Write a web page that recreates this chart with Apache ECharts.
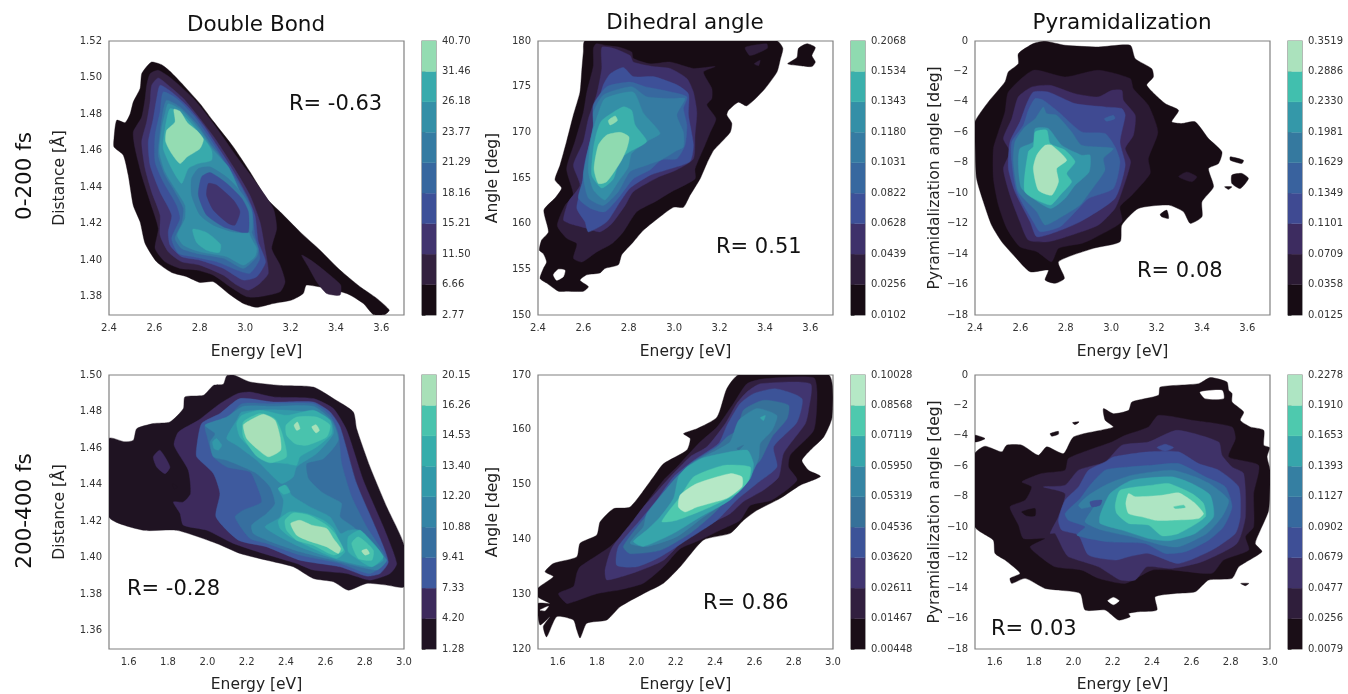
<!DOCTYPE html>
<html><head><meta charset="utf-8">
<style>html,body{margin:0;padding:0;background:#fff}#c{width:1348px;height:694px}</style>
<script src="https://cdn.jsdelivr.net/npm/echarts@6/dist/echarts.min.js"></script>
</head><body><div id="c"></div>
<script>
const columnTitles = ['Double Bond','Dihedral angle','Pyramidalization'];
const rowTitles = ['0-200 fs','200-400 fs'];
const rLabels = ['R= -0.63','R= 0.51','R= 0.08','R= -0.28','R= 0.86','R= 0.03'];
const xName = 'Energy [eV]';
const yNames = ['Distance [Å]','Angle [deg]','Pyramidalization angle [deg]'];
const xTicksEarly = [2.4,2.6,2.8,3.0,3.2,3.4,3.6];
const xTicksLate = [1.6,1.8,2.0,2.2,2.4,2.6,2.8,3.0];
const yTicksBondEarly = [1.38,1.40,1.42,1.44,1.46,1.48,1.50,1.52];
const yTicksBondLate = [1.36,1.38,1.40,1.42,1.44,1.46,1.48,1.50];
const yTicksAngleEarly = [150,155,160,165,170,175,180];
const yTicksAngleLate = [120,130,140,150,160,170];
const yTicksPyr = [-18,-16,-14,-12,-10,-8,-6,-4,-2,0];
const levelsBondEarly = ['2.77','6.66','11.50','15.21','18.16','21.29','23.77','26.18','31.46','40.70'];
const levelsAngleEarly = ['0.0102','0.0256','0.0439','0.0628','0.0822','0.1031','0.1180','0.1343','0.1534','0.2068'];
const levelsPyrEarly = ['0.0125','0.0358','0.0709','0.1101','0.1349','0.1629','0.1981','0.2330','0.2886','0.3519'];
const levelsBondLate = ['1.28','4.20','7.33','9.41','10.88','12.20','13.40','14.53','16.26','20.15'];
const levelsAngleLate = ['0.00448','0.01467','0.02611','0.03620','0.04536','0.05319','0.05950','0.07119','0.08568','0.10028'];
const levelsPyrLate = ['0.0079','0.0256','0.0477','0.0679','0.0902','0.1127','0.1393','0.1653','0.1910','0.2278'];
const paletteBondEarly = ['#170c14','#33213f','#41346e','#3d5098','#37679f','#357ba2','#348fa7','#38aaac','#94dcb2'];
const paletteAngleEarly = ['#170c14','#2f1e3b','#3e316a','#3d5098','#37689f','#357ba2','#348fa7','#3bb0ac','#8fdab0'];
const palettePyrEarly = ['#170c14','#2b1a33','#3d2c60','#3f4a92','#39629e','#35799f','#3498a9','#41bfae','#abe2bd'];
const paletteBondLate = ['#1f1322','#3d2a5c','#3e5a9e','#366f9f','#3484a5','#3299a9','#36adab','#49c3ad','#a8e0b8'];
const paletteAngleLate = ['#1a0e17','#311f3f','#413570','#3c5398','#367199','#3585a3','#36a5ab','#4ec9ae','#b5e8c6'];
const palettePyrLate = ['#1a0e17','#2f1e3b','#3f3268','#3e4f96','#36699e','#357fa2','#36a5ab','#4ec9ae','#aee5c3'];

// contour outlines: [level, [energy, value, energy, value, ...]]; level -1 = empty
const contoursBondEarly = [
[0,[2.588,1.5085,2.632,1.507,2.669,1.5034,2.728,1.4958,2.801,1.4857,2.86,1.476,2.948,1.462,3.021,1.4484,3.095,1.4338,3.154,1.4265,3.242,1.4155,3.33,1.4055,3.418,1.3946,3.506,1.3855,3.58,1.3791,3.635,1.3727,3.616,1.3703,3.565,1.3703,3.521,1.3763,3.447,1.3818,3.271,1.3864,3.256,1.3818,3.205,1.3782,3.124,1.3763,3.051,1.3742,2.992,1.3763,2.926,1.3818,2.86,1.3882,2.801,1.3878,2.742,1.391,2.676,1.3933,2.61,1.3991,2.559,1.4092,2.537,1.421,2.507,1.43,2.485,1.4465,2.463,1.4575,2.422,1.462,2.422,1.4666,2.434,1.4766,2.471,1.4753,2.493,1.48,2.507,1.4866,2.537,1.494,2.544,1.502,2.566,1.506]],
[1,[2.617,1.504,2.676,1.4994,2.772,1.4885,2.86,1.4748,2.963,1.4566,3.051,1.442,3.124,1.4283,3.139,1.4174,3.117,1.4064,3.154,1.3973,3.176,1.3882,3.154,1.3827,3.065,1.38,3.007,1.38,2.933,1.3855,2.86,1.3918,2.786,1.3946,2.713,1.3955,2.647,1.3991,2.603,1.4064,2.617,1.4174,2.581,1.432,2.544,1.4465,2.515,1.4611,2.507,1.4702,2.544,1.4784,2.559,1.4885,2.566,1.4958,2.581,1.5021]],
[1,[3.249,1.4028,3.3,1.3991,3.374,1.3918,3.421,1.3864,3.418,1.3809,3.359,1.3818,3.315,1.3882,3.278,1.3964]],
[2,[2.617,1.4998,2.661,1.4958,2.728,1.4885,2.801,1.4775,2.867,1.4666,2.948,1.4511,3.021,1.4356,3.065,1.421,3.087,1.4064,3.102,1.3928,3.065,1.3873,3.014,1.3836,2.963,1.3864,2.904,1.3918,2.801,1.3973,2.72,1.3991,2.661,1.4046,2.625,1.4137,2.625,1.4247,2.588,1.4374,2.559,1.4502,2.544,1.4648,2.566,1.4757,2.581,1.4866,2.588,1.4958]],
[3,[2.625,1.4958,2.676,1.4921,2.742,1.4848,2.816,1.4739,2.875,1.4629,2.941,1.4502,3.007,1.4356,3.043,1.4247,3.058,1.4101,3.09,1.3991,3.051,1.3909,2.992,1.3891,2.904,1.3955,2.801,1.4,2.72,1.4019,2.669,1.4082,2.661,1.4155,2.676,1.4247,2.625,1.4374,2.581,1.452,2.573,1.4648,2.595,1.4775,2.61,1.4885]],
[4,[2.639,1.4921,2.698,1.4885,2.772,1.4793,2.845,1.4666,2.911,1.4538,2.977,1.4411,3.029,1.4283,3.043,1.4137,3.065,1.401,3.021,1.3928,2.963,1.3946,2.875,1.3991,2.772,1.4019,2.706,1.4037,2.676,1.4119,2.713,1.4228,2.698,1.4301,2.639,1.4429,2.603,1.4538,2.603,1.4684,2.625,1.4812]],
[5,[2.654,1.4876,2.713,1.4839,2.786,1.4748,2.852,1.4629,2.897,1.4556,2.926,1.4465,2.977,1.4374,3.029,1.4265,3.029,1.4155,3.058,1.4064,3.051,1.4019,2.992,1.3955,2.904,1.401,2.786,1.4037,2.72,1.4064,2.691,1.4119,2.72,1.4201,2.728,1.4283,2.691,1.4374,2.647,1.4465,2.617,1.4575,2.625,1.4702,2.639,1.4821]],
[6,[2.661,1.4857,2.72,1.4821,2.801,1.4711,2.86,1.4602,2.926,1.4511,2.977,1.4374,3.014,1.4265,3.021,1.4137,3.051,1.4064,3.043,1.4019,2.992,1.3973,2.919,1.4019,2.801,1.4046,2.728,1.4082,2.701,1.4137,2.735,1.4228,2.735,1.4301,2.691,1.4392,2.647,1.4484,2.622,1.4593,2.632,1.4721,2.647,1.4803]],
[7,[2.669,1.483,2.72,1.4803,2.801,1.4693,2.852,1.4602,2.852,1.4547,2.794,1.4529,2.75,1.4502,2.72,1.442,2.676,1.4502,2.639,1.4611,2.647,1.4721]],
[8,[2.686,1.4826,2.713,1.4815,2.745,1.4753,2.786,1.4711,2.816,1.4662,2.801,1.4611,2.745,1.4566,2.713,1.4529,2.676,1.4584,2.65,1.4648,2.654,1.4711,2.691,1.4757]],
[5,[2.794,1.4502,2.845,1.4511,2.926,1.4447,2.992,1.4356,3.029,1.4265,3.029,1.4155,2.948,1.4155,2.86,1.4192,2.801,1.4247,2.764,1.4356,2.764,1.4447]],
[3,[2.808,1.4456,2.845,1.448,2.919,1.442,2.985,1.4338,3.014,1.4265,3.014,1.4155,2.977,1.4155,2.904,1.4183,2.83,1.4247,2.794,1.4356]],
[2,[2.838,1.442,2.874,1.4411,2.948,1.4329,2.977,1.4265,2.955,1.4192,2.926,1.4201,2.86,1.4274,2.83,1.4356]],
[7,[2.769,1.417,2.83,1.4152,2.892,1.4086,2.886,1.4042,2.83,1.4055,2.786,1.4097]]
];
const contoursAngleEarly = [
[0,[2.607,180,3.453,180,3.479,179.2,3.467,177.9,3.453,176.6,3.394,174.6,3.32,172.9,3.283,173.3,3.239,172.4,3.232,171.9,3.254,171,3.247,170,3.203,168.8,3.173,168,3.144,166.6,3.114,164.9,3.07,163.1,3.041,161.8,2.997,161.8,2.945,160.9,2.865,159.3,2.82,158,2.769,156.6,2.754,155.5,2.695,155.1,2.673,154.6,2.615,154.4,2.585,153.8,2.622,153.1,2.6,152.6,2.526,152.6,2.49,152.6,2.438,153.5,2.409,154,2.424,155.1,2.438,155.8,2.424,156.7,2.406,157.1,2.416,158.2,2.446,159.1,2.426,161.5,2.475,162.8,2.504,163.9,2.475,164.8,2.497,166.4,2.526,169,2.556,171.9,2.585,174.4,2.593,176.8,2.6,178.8]],
[0,[3.548,179.2,3.585,179.7,3.622,179.3,3.607,178.4,3.622,177.7,3.607,177.2,3.555,177.3,3.5,177.5,3.541,178.2]],
[-1,[2.468,154.4,2.49,155,2.519,154.9,2.512,154.2,2.482,153.8]],
[1,[2.656,179.7,2.703,179.5,2.762,179.3,2.813,178.8,2.82,178.1,2.894,177.5,2.982,177.7,3.085,177,3.181,177.2,3.129,176.6,3.166,174.8,3.166,173.7,3.144,173,3.184,171.5,3.159,170,3.136,168.6,3.092,166,3.092,164.9,2.989,163.5,2.916,162.4,2.835,161.3,2.776,159.1,2.725,157.8,2.659,156.9,2.593,155.8,2.556,156.2,2.571,157.8,2.526,158.4,2.485,159.8,2.519,162,2.556,163.1,2.526,166,2.563,169,2.6,172.2,2.615,174.4,2.644,177.3,2.644,179.2]],
[1,[3.313,179.3,3.408,179.7,3.411,179.2,3.335,178.4]],
[1,[3.353,177.5,3.379,177.9,3.372,177.3]],
[2,[2.681,179.3,2.732,179.2,2.806,178.4,2.82,177.7,2.909,177.2,2.982,177,3.056,175.9,3.085,174.4,3.1,172.2,3.092,169.7,3.085,167.1,3.012,165.9,2.931,165.1,2.82,163.5,2.784,162,2.725,160,2.673,159.1,2.615,159.5,2.541,160,2.512,160.4,2.534,162.4,2.585,164.2,2.556,166.4,2.6,169,2.622,171.5,2.659,174.2,2.681,177]],
[3,[2.718,176.4,2.776,177.1,2.82,176.1,2.909,176.1,3.012,175.2,3.063,174.2,3.063,171.9,3.085,168.6,3.07,166.8,2.982,166,2.894,165.3,2.806,163.9,2.762,162.4,2.703,160.2,2.622,159.1,2.607,160.2,2.571,161.7,2.593,164.2,2.607,166.8,2.637,169.7,2.659,172.6,2.688,175.2]],
[4,[2.644,173,2.703,175,2.806,175.5,2.872,175,2.953,174.6,3.056,173.9,3.041,172.6,3.056,170.8,3.048,168.6,3.012,167.1,2.945,167,2.894,165.9,2.82,164.9,2.754,162.8,2.695,161.3,2.629,161.7,2.578,162.8,2.6,164.9,2.615,167.5,2.644,170.4]],
[5,[2.644,172.2,2.688,174.1,2.813,175,2.879,173.9,2.989,173.7,3.048,173.7,3.012,171.9,3.041,170,3.041,168.4,3.012,168,2.945,167,2.879,166.4,2.806,165.7,2.754,163.5,2.688,162,2.622,162.8,2.6,165.3,2.622,168.2,2.644,170.8]],
[6,[2.666,172.1,2.695,173.7,2.82,174.4,2.865,172.1,2.938,169.9,2.887,169.1,2.813,167.7,2.798,166.2,2.754,164.6,2.695,162.6,2.644,163.7,2.622,165.7,2.629,168.6,2.644,170.4]],
[7,[2.681,171.3,2.776,172.8,2.813,172.4,2.828,170.8,2.879,169,2.806,167.9,2.762,167.1,2.732,164.9,2.681,163.9,2.637,165.3,2.644,168.2,2.659,170]],
[8,[2.666,168.6,2.703,169.7,2.762,170,2.801,169.5,2.791,168.2,2.765,166.8,2.703,164.6,2.666,164.4,2.647,166]],
[8,[2.71,171.3,2.74,171.8,2.75,171.3,2.718,170.8]]
];
const contoursPyrEarly = [
[0,[2.657,-0.17,2.709,-0.02,2.797,-0.28,2.944,-0.39,3.084,-0.28,3.106,-1.16,3.179,-1.82,3.186,-2.36,3.157,-2.91,3.238,-4.11,3.297,-4.55,3.267,-5.31,3.311,-5.42,3.37,-5.31,3.429,-6.41,3.488,-7.28,3.473,-8.05,3.429,-8.38,3.451,-9.58,3.4,-10.56,3.4,-11.55,3.348,-11.98,3.319,-11.22,3.253,-10.78,3.12,-11,3.047,-12.09,3.039,-13.19,2.922,-13.62,2.768,-14.5,2.794,-15.59,2.753,-15.92,2.709,-15.7,2.723,-15.05,2.643,-15.16,2.576,-14.17,2.518,-13.19,2.473,-12.09,2.437,-10.56,2.407,-9.03,2.4,-6.63,2.4,-5.31,2.459,-4,2.532,-2.69,2.547,-2.03,2.591,-1.49,2.591,-0.83]],
[0,[3.525,-7.61,3.583,-7.83,3.576,-8.05,3.525,-7.83]],
[0,[3.532,-8.81,3.576,-8.7,3.605,-9.03,3.569,-9.69,3.532,-9.36]],
[0,[3.5,-9.58,3.532,-9.58,3.517,-9.75]],
[0,[3.216,-11.39,3.245,-11.11,3.253,-11.66,3.223,-11.55]],
[1,[2.657,-1.92,2.797,-2.36,2.944,-1.92,3.084,-2.47,3.098,-3.13,3.164,-4.22,3.206,-5.97,3.164,-7.72,3.172,-8.7,3.091,-10.13,3.039,-10.89,3.047,-11.88,2.922,-12.97,2.87,-13.3,2.768,-13.62,2.738,-14.5,2.672,-13.84,2.598,-13.52,2.54,-12.31,2.503,-10.78,2.481,-9.03,2.481,-7.06,2.503,-5.97,2.532,-4.66,2.547,-3.35]],
[1,[3.297,-8.92,3.333,-8.6,3.378,-8.92,3.356,-9.25]],
[2,[2.591,-3.67,2.65,-3.02,2.731,-2.91,2.841,-3.46,2.944,-3.67,3.003,-3.24,3.047,-3.24,3.054,-3.89,3.106,-4.88,3.098,-6.19,3.062,-7.06,3.086,-7.94,3.047,-9.91,3.017,-11,2.944,-12.09,2.826,-12.75,2.723,-13.19,2.635,-13.08,2.598,-11.88,2.554,-10.13,2.525,-8.38,2.554,-7.28,2.525,-6.41,2.562,-5.1]],
[3,[2.628,-4.11,2.657,-3.35,2.723,-3.35,2.841,-4.11,2.973,-4.33,3.047,-4.44,3.062,-4.88,3.039,-6.63,3.062,-8.16,3.017,-10.34,2.863,-11.88,2.76,-12.53,2.672,-12.86,2.643,-11.88,2.576,-9.91,2.547,-8.38,2.554,-6.63,2.598,-5.31]],
[4,[2.97,-5.1,3.01,-4.88,3.017,-5.1,2.98,-5.27]],
[4,[2.635,-4.55,2.665,-3.78,2.701,-3.89,2.768,-4.66,2.87,-5.97,2.973,-6.08,3.017,-6.95,3.039,-7.94,3.01,-9.69,2.9,-10.34,2.856,-11,2.775,-12.2,2.687,-12.53,2.657,-11.88,2.584,-9.91,2.562,-7.94,2.562,-6.63,2.613,-5.53]],
[5,[2.701,-4.33,2.716,-4.77,2.76,-4.88,2.826,-5.97,2.87,-6.85,3.01,-7.06,2.966,-7.72,2.973,-8.49,2.907,-9.91,2.863,-10.78,2.782,-11.55,2.709,-12.09,2.672,-11.22,2.591,-9.91,2.569,-7.94,2.576,-6.63,2.62,-5.64,2.665,-5.1]],
[6,[2.665,-5.75,2.723,-5.75,2.782,-6.85,2.87,-7.5,2.907,-7.5,2.903,-8.6,2.841,-9.47,2.797,-10.34,2.731,-11,2.606,-9.69,2.591,-8.16,2.598,-7.06,2.657,-6.63]],
[7,[2.665,-5.97,2.716,-5.86,2.731,-6.74,2.797,-7.17,2.841,-7.94,2.804,-8.7,2.826,-9.25,2.775,-10.13,2.731,-10.78,2.62,-9.91,2.635,-7.28,2.657,-6.95]],
[8,[2.709,-6.85,2.738,-6.85,2.804,-7.83,2.76,-8.38,2.768,-9.25,2.738,-10.13,2.679,-9.8,2.657,-8.38,2.672,-7.5]]
];
const contoursBondLate = [
[0,[2.098,1.4995,2.132,1.5,2.217,1.4962,2.37,1.4943,2.539,1.4934,2.641,1.4871,2.742,1.4798,2.759,1.4706,2.827,1.4497,2.912,1.4278,3,1.4068,3,1.3841,2.912,1.385,2.81,1.3859,2.717,1.3822,2.641,1.3868,2.539,1.3886,2.437,1.395,2.302,1.3986,2.166,1.4023,2.047,1.4078,1.844,1.415,1.675,1.415,1.5,1.4223,1.5,1.4652,1.581,1.4634,1.624,1.4643,1.641,1.4706,1.725,1.4734,1.81,1.4743,1.878,1.4816,1.886,1.488,1.98,1.4889,2.031,1.4943,2.081,1.4949]],
[1,[2.153,1.4898,2.217,1.4907,2.336,1.488,2.539,1.4871,2.641,1.4816,2.709,1.4697,2.793,1.4424,2.895,1.4169,2.963,1.3968,2.929,1.3913,2.827,1.3877,2.709,1.3913,2.539,1.3932,2.454,1.3968,2.285,1.4023,2.132,1.4078,1.997,1.415,1.878,1.4178,1.861,1.4242,1.827,1.4305,1.878,1.4305,1.915,1.4351,1.903,1.4479,1.831,1.4615,1.853,1.4688,1.954,1.4752,2.064,1.4843]],
[1,[1.725,1.4552,1.759,1.4588,1.81,1.4497,1.785,1.446,1.742,1.4497]],
[0,[1.822,1.4406,1.847,1.4387,1.831,1.4375]],
[2,[2.166,1.4871,2.336,1.4852,2.539,1.4852,2.624,1.4798,2.675,1.4716,2.759,1.4406,2.861,1.415,2.92,1.3977,2.878,1.3913,2.81,1.3899,2.675,1.395,2.471,1.3986,2.302,1.4059,2.158,1.4096,2.044,1.4223,2.064,1.4351,2.031,1.446,1.946,1.4552,1.946,1.4606,1.971,1.4734,2.064,1.4789]],
[3,[2.175,1.4843,2.319,1.4843,2.539,1.4843,2.624,1.4779,2.666,1.4679,2.683,1.4515,2.734,1.4333,2.81,1.4169,2.912,1.3986,2.827,1.3913,2.675,1.3968,2.471,1.4014,2.302,1.4078,2.217,1.4105,2.141,1.4223,2.183,1.426,2.276,1.4305,2.251,1.4397,2.217,1.4469,2.098,1.4497,2.031,1.4552,1.997,1.467,1.988,1.4725,2.047,1.4743,2.098,1.4761]],
[4,[2.183,1.4829,2.336,1.4829,2.539,1.4829,2.632,1.4752,2.666,1.4643,2.59,1.4542,2.505,1.4515,2.514,1.4433,2.581,1.436,2.641,1.4324,2.683,1.4296,2.675,1.4223,2.742,1.4169,2.861,1.4041,2.912,1.3986,2.861,1.3932,2.675,1.3977,2.471,1.4032,2.302,1.4096,2.234,1.4132,2.225,1.4178,2.302,1.4242,2.344,1.4296,2.319,1.4387,2.251,1.446,2.2,1.4488,2.098,1.4533,2.031,1.4552,2.014,1.4634,2.039,1.4679,1.988,1.4725,2.098,1.477]],
[5,[2.175,1.4798,2.319,1.481,2.505,1.4798,2.624,1.4752,2.641,1.4679,2.556,1.457,2.454,1.4497,2.437,1.4442,2.378,1.4406,2.319,1.446,2.251,1.4533,2.149,1.4615,2.098,1.4652,2.149,1.4752]],
[5,[2.361,1.4378,2.403,1.4397,2.429,1.4342,2.522,1.4278,2.624,1.4223,2.678,1.4132,2.717,1.415,2.776,1.415,2.861,1.4059,2.895,1.3986,2.827,1.395,2.641,1.3996,2.471,1.4059,2.353,1.4123,2.293,1.4169,2.37,1.4223,2.387,1.4315]],
[5,[2.027,1.4634,2.047,1.4652,2.073,1.4615,2.056,1.4588,2.034,1.4597]],
[6,[2.175,1.4779,2.268,1.4807,2.403,1.4779,2.539,1.4807,2.624,1.4752,2.632,1.4679,2.556,1.4606,2.471,1.4552,2.454,1.4506,2.403,1.4515,2.319,1.4524,2.251,1.457,2.166,1.4661,2.149,1.4734]],
[6,[2.361,1.4378,2.395,1.4397,2.42,1.436,2.386,1.4347]],
[6,[2.361,1.4205,2.42,1.4251,2.505,1.4242,2.59,1.4205,2.641,1.416,2.675,1.4078,2.7,1.4032,2.658,1.3996,2.539,1.405,2.42,1.4114,2.37,1.416]],
[6,[2.717,1.4114,2.776,1.415,2.827,1.4096,2.895,1.4005,2.836,1.395,2.759,1.3996,2.717,1.4032]],
[7,[2.183,1.4743,2.268,1.4789,2.344,1.4761,2.378,1.4688,2.403,1.4552,2.319,1.4519,2.251,1.4555,2.183,1.4661]],
[7,[2.4,1.4725,2.454,1.477,2.556,1.477,2.624,1.4725,2.607,1.4661,2.505,1.4615,2.446,1.4624,2.403,1.467]],
[8,[2.183,1.4725,2.217,1.4752,2.285,1.4785,2.344,1.4752,2.37,1.4661,2.373,1.4588,2.31,1.4552,2.251,1.4597,2.2,1.4652]],
[8,[2.441,1.4725,2.458,1.4743,2.471,1.4706,2.454,1.4697]],
[8,[2.531,1.4716,2.553,1.4728,2.57,1.4697,2.553,1.4683]],
[7,[2.395,1.4205,2.437,1.4245,2.514,1.4233,2.607,1.4178,2.649,1.4132,2.692,1.4041,2.641,1.4014,2.539,1.4068,2.454,1.4096,2.403,1.415]],
[8,[2.424,1.4187,2.471,1.4205,2.531,1.4178,2.607,1.416,2.641,1.4105,2.678,1.405,2.666,1.4023,2.607,1.4059,2.505,1.4096,2.454,1.4123]],
[7,[2.734,1.4078,2.768,1.4114,2.844,1.4041,2.836,1.3986,2.768,1.3996]],
[8,[2.785,1.4037,2.81,1.4047,2.824,1.4023,2.802,1.4014]]
];
const contoursAngleLate = [
[0,[2.52,170,2.978,170,2.995,162.3,2.953,158.7,2.885,156.3,2.842,154.4,2.876,152.6,2.936,151.5,2.834,149.9,2.732,147.5,2.613,145.3,2.545,143.5,2.477,141.1,2.342,139.9,2.223,135,2.138,132,2.036,130.1,1.917,127.7,1.85,125.3,1.748,124.7,1.714,122,1.697,123.5,1.68,125.3,1.595,125.9,1.544,122.2,1.527,124.1,1.561,125.9,1.51,124.4,1.5,128.3,1.561,128.3,1.5,129.5,1.5,131.1,1.578,133.2,1.536,134.1,1.578,135.6,1.697,136.8,1.714,139.3,1.799,140.8,1.816,143.2,1.884,145.6,1.968,145.9,2.087,151.4,2.138,153.8,2.257,156.3,2.274,158.4,2.24,159.3,2.308,160.2,2.41,162.3,2.46,167.5]],
[-1,[1.51,127.1,1.553,127.8,1.536,127]],
[1,[2.562,168.4,2.647,169.3,2.902,169.5,2.919,166.6,2.902,159.9,2.783,155.4,2.774,153.2,2.817,150.8,2.69,147.2,2.579,146.2,2.528,143.5,2.427,141.7,2.325,139.9,2.223,138.3,2.138,135,2.036,132,1.917,130.8,1.799,130.1,1.68,128.6,1.646,128.3,1.604,130.1,1.68,131.4,1.697,133.8,1.714,135,1.867,138.7,1.968,142.3,2.036,145.9,2.138,150.8,2.206,153.2,2.325,157.8,2.41,160.5,2.494,164.8]],
[2,[2.562,166.9,2.63,168.4,2.885,168.4,2.876,163.6,2.859,161.1,2.749,155.7,2.724,151.4,2.647,149,2.545,146.9,2.477,144.7,2.308,141.7,2.24,139.9,2.138,136.2,2.002,134.1,1.85,132.6,1.841,134.4,1.875,138.4,1.985,143.5,2.036,145.9,2.172,151.4,2.274,155.1,2.359,156.9,2.452,161.1,2.511,164.8]],
[3,[2.528,164.8,2.596,166.6,2.707,167.5,2.842,165.7,2.817,161.4,2.698,156.9,2.715,153.2,2.613,150.2,2.511,147.2,2.41,143.5,2.257,139.9,2.121,136.8,2.002,135,1.9,135.3,1.909,138.7,2.019,143.5,2.104,147.2,2.189,151.4,2.291,154.4,2.418,157.5,2.461,160.8]],
[4,[2.545,163.6,2.647,165.4,2.774,164.5,2.766,162,2.69,158.7,2.63,154.4,2.579,152.6,2.41,145.3,2.274,141.1,2.121,138,1.968,137.4,1.934,138.7,2.045,144.1,2.189,150.8,2.274,153.8,2.41,156.9,2.461,158.7,2.511,159.9]],
[5,[2.52,161.7,2.613,163.9,2.715,162.6,2.69,159.9,2.63,157.5,2.622,154.8,2.579,151.4,2.494,147.8,2.342,144.1,2.206,140.5,2.053,138.7,1.968,139.3,2.036,142.3,2.053,144.7,2.206,151.4,2.291,154.1,2.41,156.3,2.477,157.8]],
[6,[2.63,162.2,2.656,162.6,2.647,161.7]],
[4,[2.511,156.6,2.545,157.2,2.52,156.3]],
[6,[2.257,153.2,2.342,154.9,2.562,156.3,2.596,153.8,2.579,151.1,2.477,147.2,2.325,144.1,2.189,141.1,2.036,138.7,1.985,139.6,2.053,141.7,2.121,144.1,2.189,147.5,2.214,151.4]],
[7,[2.291,151.4,2.444,153.5,2.579,153.2,2.571,150.8,2.511,148.4,2.376,145.9,2.206,143.5,2.13,143.2,2.155,144.7,2.223,147.8]],
[8,[2.223,148.1,2.308,150.2,2.477,152,2.537,151.4,2.537,149.6,2.46,147.5,2.308,145.9,2.248,145,2.214,145.9]]
];
const contoursPyrLate = [
[0,[1.5,-5.16,1.551,-4.68,1.636,-5.05,1.661,-4.61,1.738,-4.61,1.822,-5.27,1.865,-4.72,1.95,-5.16,2.001,-4.07,2.153,-3.59,2.204,-3.41,2.162,-2.97,2.153,-2.21,2.204,-2.54,2.281,-2.32,2.298,-1.77,2.433,-1.33,2.442,-0.79,2.637,-0.57,2.696,-0.17,2.781,-0.46,2.79,-1.01,2.807,-1.22,2.807,-1.77,2.866,-2.43,2.849,-2.97,2.9,-3.41,2.968,-3.63,2.968,-4.61,2.997,-4.77,2.985,-5.38,3,-6.25,2.993,-8.88,2.951,-10.19,2.925,-11.07,2.959,-11.61,2.841,-12.6,2.807,-13.36,2.688,-13.47,2.62,-14.24,2.518,-14.35,2.416,-14.57,2.425,-15.44,2.332,-15.55,2.281,-15.66,2.289,-15.88,2.23,-16.1,2.162,-15.44,2.06,-15.44,2.035,-14.35,1.924,-14.13,1.856,-14.02,1.755,-13.36,1.687,-13.69,1.678,-13.36,1.729,-13.03,1.653,-12.16,1.602,-11.72,1.593,-10.85,1.5,-9.97]],
[0,[1.5,-3.96,1.551,-4.18,1.5,-4.4]],
[0,[1.882,-3.85,1.924,-3.7,1.924,-3.89,1.89,-4.02]],
[0,[1.996,-3.13,2.029,-3.08,2.009,-3.26]],
[0,[2.851,-13.69,2.892,-13.69,2.875,-13.84]],
[-1,[2.645,-1.12,2.756,-1.01,2.764,-1.55,2.671,-1.55]],
[-1,[2.175,-14.83,2.204,-14.61,2.233,-14.83,2.204,-15.09]],
[1,[1.738,-7.02,1.839,-6.47,1.958,-6.25,1.975,-5.49,2.077,-4.94,2.196,-4.4,2.264,-3.96,2.382,-3.41,2.433,-2.65,2.603,-2.97,2.807,-3.41,2.824,-4.18,2.79,-5.38,2.942,-5.93,2.917,-7.79,2.917,-9.97,2.875,-10.63,2.892,-11.5,2.764,-12.16,2.705,-13.03,2.51,-12.82,2.399,-12.82,2.264,-13.69,2.128,-13.36,2.043,-12.82,1.907,-12.6,1.831,-11.94,1.78,-11.29,1.856,-10.74,1.746,-10.74,1.721,-9.86,1.678,-8.66,1.755,-8.22,1.788,-7.35]],
[0,[1.738,-8.99,1.805,-8.77,1.805,-9.25,1.763,-9.25]],
[2,[1.848,-7.35,1.958,-7.24,2.026,-6.25,2.162,-5.71,2.247,-4.61,2.382,-4.4,2.527,-3.63,2.739,-4.4,2.756,-5.27,2.807,-6.04,2.866,-6.47,2.875,-9.32,2.832,-11.07,2.654,-12.27,2.501,-12.71,2.374,-12.6,2.315,-13.47,2.238,-13.47,2.128,-12.6,1.975,-11.94,1.95,-11.5,1.907,-10.41,1.882,-10.41,1.924,-9.32,1.958,-7.79]],
[3,[2.425,-4.77,2.467,-4.55,2.51,-4.77,2.467,-5.01]],
[3,[2.026,-7.35,2.077,-6.25,2.162,-5.71,2.204,-5.38,2.382,-5.05,2.535,-5.05,2.637,-5.82,2.739,-6.25,2.841,-7.35,2.849,-9.32,2.824,-10.41,2.705,-11.5,2.535,-12.38,2.382,-11.72,2.281,-11.94,2.213,-12.16,2.077,-11.83,2.026,-10.52,1.941,-10.19,1.924,-9.54,1.958,-8.22]],
[4,[2.035,-8.11,2.085,-7.24,2.162,-6.25,2.281,-6.04,2.399,-5.93,2.535,-5.82,2.671,-6.69,2.773,-7.35,2.807,-8.66,2.764,-9.97,2.688,-10.85,2.569,-11.61,2.467,-11.72,2.365,-11.07,2.179,-10.96,2.018,-10.52,2.06,-9.97,1.975,-9.54,1.958,-9.1]],
[5,[2.026,-8.55,2.077,-7.9,2.179,-7.13,2.298,-6.58,2.501,-6.25,2.62,-6.69,2.705,-7.24,2.79,-8.22,2.756,-9.32,2.679,-10.41,2.535,-11.29,2.45,-11.18,2.298,-10.63,2.145,-10.19,2.06,-9.65,2.102,-8.66,2.043,-8.77]],
[3,[2.085,-8.33,2.145,-8.22,2.136,-8.55,2.094,-8.66]],
[6,[2.136,-9.21,2.187,-7.79,2.298,-6.91,2.501,-6.69,2.603,-7.13,2.696,-7.9,2.713,-9.32,2.62,-10.41,2.484,-10.89,2.382,-10.74,2.247,-10.19,2.136,-9.75]],
[7,[2.213,-8.55,2.238,-7.57,2.399,-7.24,2.484,-7.13,2.603,-7.79,2.662,-8.44,2.671,-9.32,2.535,-10.41,2.45,-10.56,2.382,-9.86,2.281,-9.75,2.221,-9.1]],
[8,[2.267,-8.44,2.281,-7.79,2.315,-8,2.45,-7.9,2.535,-7.74,2.586,-8.11,2.62,-8.44,2.662,-9.1,2.637,-9.43,2.501,-9.54,2.416,-9.54,2.349,-9.32,2.281,-9.1]],
[7,[2.51,-8.66,2.561,-8.55,2.569,-8.7,2.518,-8.77]]
];

const panels = [
 {c:contoursBondEarly,pal:paletteBondEarly,lv:levelsBondEarly,xr:[2.4,3.7],xt:xTicksEarly,yr:[1.37,1.52],yt:yTicksBondEarly,yd:2,name:0,gap:41,l:109,t:41},
 {c:contoursAngleEarly,pal:paletteAngleEarly,lv:levelsAngleEarly,xr:[2.4,3.7],xt:xTicksEarly,yr:[150,180],yt:yTicksAngleEarly,yd:0,name:1,gap:37,l:538,t:41},
 {c:contoursPyrEarly,pal:palettePyrEarly,lv:levelsPyrEarly,xr:[2.4,3.7],xt:xTicksEarly,yr:[-18,0],yt:yTicksPyr,yd:0,name:2,gap:32,l:975,t:41},
 {c:contoursBondLate,pal:paletteBondLate,lv:levelsBondLate,xr:[1.5,3.0],xt:xTicksLate,yr:[1.35,1.50],yt:yTicksBondLate,yd:2,name:0,gap:41,l:109,t:375},
 {c:contoursAngleLate,pal:paletteAngleLate,lv:levelsAngleLate,xr:[1.5,3.0],xt:xTicksLate,yr:[120,170],yt:yTicksAngleLate,yd:0,name:1,gap:37,l:538,t:375},
 {c:contoursPyrLate,pal:palettePyrLate,lv:levelsPyrLate,xr:[1.5,3.0],xt:xTicksLate,yr:[-18,0],yt:yTicksPyr,yd:0,name:2,gap:32,l:975,t:375}
];
const FONT='"DejaVu Sans"', INK='#333', FRAME='#808080';
const grid=[],xAxis=[],yAxis=[],series=[];
panels.forEach((p,i)=>{
  const g=grid.length;
  grid.push({left:p.l,top:p.t,width:295,height:274,show:true,borderColor:FRAME,borderWidth:1.2,backgroundColor:'#fff',containLabel:false});
  xAxis.push({gridIndex:g,type:'value',min:p.xr[0],max:p.xr[1],name:xName,nameLocation:'middle',nameGap:i<3?29:28,
    nameTextStyle:{fontFamily:FONT,fontSize:15.5,color:'#222'},
    axisLine:{show:false},axisTick:{show:false},splitLine:{show:false},
    axisLabel:{customValues:p.xt,margin:8,fontFamily:FONT,fontSize:10,color:INK,formatter:v=>(+v).toFixed(1)}});
  yAxis.push({gridIndex:g,type:'value',min:p.yr[0],max:p.yr[1],name:yNames[p.name],nameLocation:'middle',nameGap:p.gap,
    nameTextStyle:{fontFamily:FONT,fontSize:15.5,color:'#222'},
    axisLine:{show:false},axisTick:{show:false},splitLine:{show:false},
    axisLabel:{customValues:p.yt,margin:7,fontFamily:FONT,fontSize:10,color:INK,formatter:v=>(+v).toFixed(p.yd).replace('-','\u2212')}});
  series.push({type:'custom',xAxisIndex:g,yAxisIndex:g,clip:true,silent:true,animation:false,
    data:p.c.map(s=>[s[1][0],s[1][1]]),encode:{x:0,y:1},
    renderItem:(params,api)=>{
      const s=p.c[params.dataIndex],f=s[1],pts=[];
      for(let k=0;k<f.length;k+=2)pts.push(api.coord([f[k],f[k+1]]));
      const fill=s[0]<0?'#fff':p.pal[s[0]];
      return {type:'polygon',shape:{points:pts,smooth:0.2},style:{fill:fill,stroke:fill,lineWidth:0.4}};
    }});
  // colour bar
  const b=grid.length;
  grid.push({left:p.l+313,top:p.t,width:14,height:274,show:true,borderColor:FRAME,borderWidth:1.2,backgroundColor:'#fff'});
  xAxis.push({gridIndex:b,type:'value',min:0,max:1,show:false});
  yAxis.push({gridIndex:b,type:'value',position:'right',min:0,max:9,interval:1,
    axisLine:{show:false},axisTick:{show:true,length:3.5,lineStyle:{color:'#555',width:1}},splitLine:{show:false},
    axisLabel:{margin:6,fontFamily:FONT,fontSize:10,color:INK,formatter:v=>p.lv[Math.round(v)]}});
  series.push({type:'custom',xAxisIndex:b,yAxisIndex:b,silent:true,animation:false,
    data:p.pal.map((c,k)=>[0,k]),encode:{x:0,y:1},
    renderItem:(params,api)=>{
      const k=params.dataIndex,a=api.coord([0,k+1]),d=api.coord([1,k]);
      return {type:'rect',shape:{x:a[0],y:a[1],width:d[0]-a[0],height:d[1]-a[1]},style:{fill:p.pal[k],stroke:p.pal[k],lineWidth:0.3}};
    }});
});
const rPos=[[289,105],[716,248],[1137,272],[127,590],[703,604],[991,630]];
const titlePos=[[256,25],[685,23],[1122,23]];
const rowPos=[[25.5,176],[25.5,511]];
const graphic=[];
columnTitles.forEach((t,i)=>graphic.push({type:'text',x:titlePos[i][0],y:titlePos[i][1],style:{text:t,font:'21.5px '+FONT,fill:'#111',textAlign:'center',textVerticalAlign:'middle'}}));
rowTitles.forEach((t,i)=>graphic.push({type:'text',x:rowPos[i][0],y:rowPos[i][1],rotation:Math.PI/2,style:{text:t,font:'21.5px '+FONT,fill:'#111',textAlign:'center',textVerticalAlign:'middle'}}));
rLabels.forEach((t,i)=>graphic.push({type:'text',z:50,x:rPos[i][0],y:rPos[i][1],style:{text:t,font:'21px '+FONT,fill:'#111',textAlign:'left',textVerticalAlign:'middle'}}));
const chart=echarts.init(document.getElementById('c'),null,{renderer:'canvas'});
chart.setOption({animation:false,backgroundColor:'#fff',grid,xAxis,yAxis,series,graphic});
</script></body></html>
